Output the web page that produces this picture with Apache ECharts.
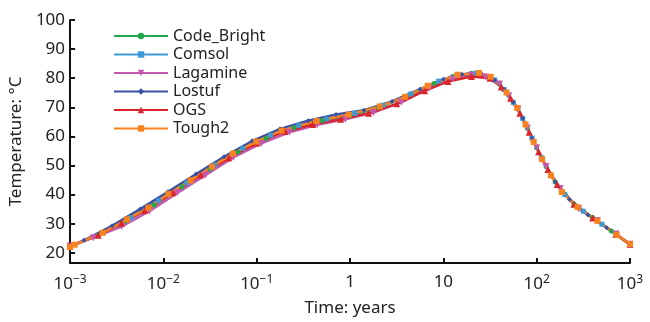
<!DOCTYPE html>
<html>
<head>
<meta charset="utf-8">
<script src="https://cdn.jsdelivr.net/npm/echarts@6/dist/echarts.min.js"></script>
<style>
  html, body { margin: 0; padding: 0; background: #fff; }
  #chart { width: 650px; height: 322px; }
</style>
</head>
<body>
<div id="chart"></div>
<script>
// time in years, temperature in °C
const codeBrightT = [0.001, 0.002, 0.00398, 0.00794, 0.0158, 0.0316, 0.0631, 0.126, 0.251, 0.501, 1, 2, 3.98, 7.94, 12.6, 20, 31.6, 39.8, 50.1, 63.1, 79.4, 100, 126, 158, 251, 398, 631, 1000];
const codeBrightV = [22.3, 26.0, 30.9, 36.4, 42.7, 48.8, 54.6, 59.3, 63.0, 65.4, 67.2, 69.9, 73.6, 78.2, 80.6, 81.7, 80.6, 78.1, 74.1, 69.4, 62.8, 56.1, 49.7, 44.3, 36.8, 32.1, 27.5, 22.9];

const comsolT = [0.001, 0.00224, 0.00447, 0.00891, 0.0178, 0.0355, 0.0708, 0.141, 0.282, 0.562, 1.12, 2.24, 4.47, 8.91, 14.1, 22.4, 35.5, 44.7, 56.2, 70.8, 89.1, 112, 141, 200, 316, 501, 708, 1000];
const comsolV = [22.0, 26.9, 32.0, 38.0, 44.1, 50.2, 55.9, 60.4, 63.8, 66.0, 67.9, 70.7, 74.6, 79.0, 81.1, 81.8, 79.4, 76.1, 71.7, 66.2, 59.4, 52.7, 46.6, 40.0, 34.3, 29.8, 26.4, 22.8];

const lagamineT = [0.001, 0.00178, 0.00355, 0.00708, 0.0141, 0.0282, 0.0562, 0.112, 0.224, 0.447, 0.891, 1.78, 3.55, 7.08, 12.6, 20, 28.2, 39.8, 50.1, 63.1, 79.4, 100, 126, 178, 282, 447, 708, 1000];
const lagamineV = [22.3, 25.2, 29.0, 34.3, 40.6, 46.7, 52.8, 57.6, 61.4, 64.0, 65.9, 68.2, 71.7, 76.6, 79.7, 81.0, 80.4, 78.0, 74.0, 69.4, 62.9, 56.1, 49.7, 42.1, 35.1, 31.1, 26.5, 22.9];

const lostufT = [0.001, 0.00141, 0.00282, 0.00562, 0.0112, 0.0224, 0.0447, 0.0891, 0.178, 0.355, 0.708, 1.41, 2.82, 5.62, 10, 15.8, 25.1, 35.5, 44.7, 56.2, 70.8, 89.1, 112, 158, 224, 355, 562, 1000];
const lostufV = [22.3, 24.3, 29.3, 35.0, 41.0, 47.1, 53.0, 58.4, 62.6, 65.4, 67.5, 69.0, 72.0, 76.2, 79.6, 81.4, 81.7, 79.4, 76.1, 71.7, 66.2, 59.4, 52.7, 44.4, 38.3, 33.0, 28.6, 23.0];

const ogsT = [0.001, 0.002, 0.00355, 0.00631, 0.0126, 0.0251, 0.0501, 0.1, 0.2, 0.398, 0.794, 1.58, 3.16, 6.31, 11.2, 20, 31.6, 41.7, 52.5, 66.1, 83.2, 105, 132, 166, 251, 398, 708, 1000];
const ogsV = [22.3, 26.0, 30.2, 34.5, 40.6, 46.7, 52.6, 57.7, 61.7, 64.1, 65.9, 68.0, 71.2, 75.7, 78.9, 80.6, 80.0, 77.0, 73.1, 68.0, 61.4, 54.7, 48.6, 43.5, 36.7, 32.0, 26.3, 22.9];

const tough2T = [0.001, 0.00112, 0.00224, 0.00407, 0.00692, 0.0113, 0.0195, 0.0332, 0.0556, 0.0986, 0.185, 0.437, 0.966, 2.08, 3.89, 6.79, 14.2, 24.1, 32.1, 47.5, 61.8, 75.9, 92.9, 114, 142, 186, 274, 447, 719, 1000];
const tough2V = [22.0, 22.8, 26.9, 31.5, 35.5, 40.2, 44.9, 49.6, 54.1, 58.2, 62.0, 65.3, 67.5, 70.3, 73.6, 77.4, 81.2, 81.8, 80.5, 75.1, 69.8, 64.1, 58.1, 52.2, 46.6, 40.9, 35.7, 31.0, 26.2, 23.0];

const yTicks = [20, 30, 40, 50, 60, 70, 80, 90, 100];

const FONT = 'Noto Sans';

function pairs(t, v) {
  return t.map((x, i) => [x, v[i]]);
}

function mkSeries(name, t, v, color, symbol, size) {
  return {
    name: name,
    type: 'line',
    data: pairs(t, v),
    symbol: symbol,
    symbolSize: size,
    showSymbol: true,
    lineStyle: { color: color, width: 2.5 },
    itemStyle: { color: color },
    emphasis: { disabled: true },
    animation: false
  };
}

const chart = echarts.init(document.getElementById('chart'));

chart.setOption({
  backgroundColor: '#ffffff',
  textStyle: { fontFamily: FONT },
  grid: { left: 67, right: 20, top: 20, bottom: 56 },
  legend: {
    orient: 'vertical',
    left: 108,
    top: 22,
    itemWidth: 54,
    itemHeight: 8,
    itemGap: 0.5,
    textStyle: { fontFamily: FONT, fontSize: 16, color: '#222', lineHeight: 18 },
    data: ['Code_Bright', 'Comsol', 'Lagamine', 'Lostuf', 'OGS', 'Tough2']
  },
  xAxis: {
    type: 'log',
    logBase: 10,
    min: 0.001,
    max: 1000,
    name: 'Time: years',
    nameLocation: 'middle',
    nameGap: 37,
    nameTextStyle: { fontFamily: FONT, fontSize: 17, color: '#222' },
    axisLine: { onZero: false, lineStyle: { color: '#111', width: 2 } },
    axisTick: { inside: true, length: 5, lineStyle: { color: '#111', width: 2 } },
    minorTick: { show: false },
    splitLine: { show: false },
    axisLabel: {
      margin: 11,
      color: '#222',
      fontFamily: FONT,
      fontSize: 17,
      formatter: function (val) {
        const e = Math.round(Math.log10(val));
        if (e === 0) return '1';
        if (e === 1) return '10';
        const s = e < 0 ? '\u2212' + (-e) : String(e);
        return '10{sup|' + s + '}';
      },
      rich: {
        sup: { fontSize: 12, fontFamily: FONT, color: '#222', padding: [0, 0, 9, 0] }
      }
    }
  },
  yAxis: {
    type: 'value',
    min: 16.5,
    max: 100,
    name: 'Temperature: \u00B0C',
    nameLocation: 'middle',
    nameGap: 40,
    nameTextStyle: { fontFamily: FONT, fontSize: 17, color: '#222' },
    axisLine: { lineStyle: { color: '#111', width: 2 } },
    axisTick: { inside: true, length: 5, customValues: yTicks, lineStyle: { color: '#111', width: 2 } },
    splitLine: { show: false },
    axisLabel: {
      margin: 5,
      color: '#222',
      fontFamily: FONT,
      fontSize: 17,
      customValues: yTicks
    }
  },
  series: [
    mkSeries('Code_Bright', codeBrightT, codeBrightV, '#22a84a', 'circle', 5),
    mkSeries('Comsol', comsolT, comsolV, '#3c9ad6', 'rect', 5),
    mkSeries('Lagamine', lagamineT, lagamineV, '#c45aaf', 'path://M0,0 L10,0 L5,9 Z', 7),
    mkSeries('Lostuf', lostufT, lostufV, '#3a52a3', 'diamond', 5),
    mkSeries('OGS', ogsT, ogsV, '#d9252b', 'triangle', 7),
    mkSeries('Tough2', tough2T, tough2V, '#f6831f', 'rect', 6)
  ]
});
</script>
</body>
</html>
